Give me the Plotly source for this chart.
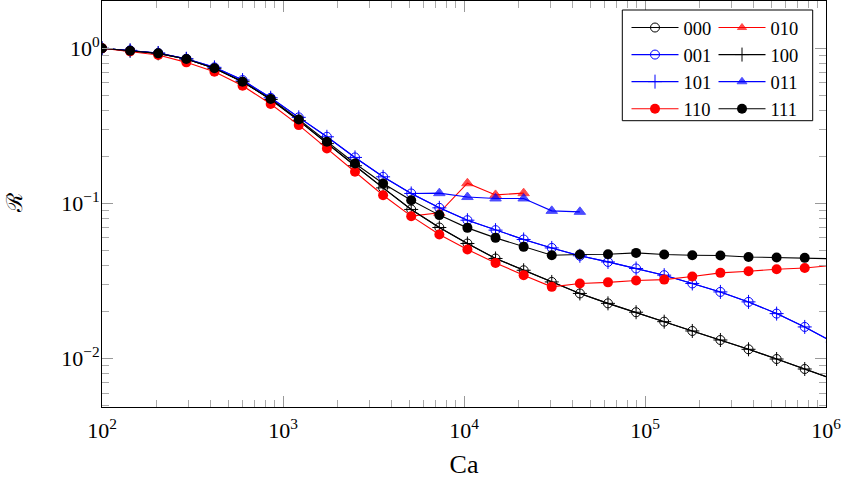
import plotly.graph_objects as go

# ---- data ----
Ca = [100, 143.0, 204.4, 292.4, 418.1, 597.8, 854.8, 1222, 1748, 2499, 3573,
      5109, 7306, 10445, 14937, 21357, 30538, 43666, 62434, 89274, 127644,
      182516, 260976, 373170, 533583, 762962, 1090940]

R_000 = [1.0, 0.965, 0.928, 0.853, 0.743, 0.609, 0.468, 0.342, 0.243, 0.175,
         0.126, 0.0915, 0.070, 0.0552, 0.0442, 0.0371, 0.0312, 0.0263, 0.0227,
         0.0199, 0.0173, 0.01507, 0.01318, 0.01148, 0.00994, 0.00857, 0.00738]
R_100 = [1.0, 0.965, 0.928, 0.853, 0.743, 0.609, 0.468, 0.342, 0.243, 0.175,
         0.126, 0.0915, 0.070, 0.0552, 0.0442, 0.0371, 0.0312, 0.0263, 0.0227,
         0.0199, 0.0173, 0.01507, 0.01318, 0.01148, 0.00994, 0.00857, 0.00738]
R_001 = [1.0, 0.971, 0.933, 0.857, 0.754, 0.624, 0.480, 0.359, 0.269, 0.198,
         0.1485, 0.116, 0.0937, 0.078, 0.0673, 0.0586, 0.0517, 0.046, 0.042,
         0.0381, 0.0345, 0.0305, 0.0269, 0.0232, 0.0195, 0.016, 0.01277]
R_101 = [1.0, 0.971, 0.933, 0.857, 0.754, 0.624, 0.480, 0.359, 0.269, 0.198,
         0.1485, 0.116, 0.0937, 0.078, 0.0673, 0.0586, 0.0517, 0.046, 0.042,
         0.0381, 0.0345, 0.0305, 0.0269, 0.0232, 0.0195, 0.016, 0.01277]
R_110 = [1.0, 0.956, 0.905, 0.812, 0.706, 0.574, 0.4375, 0.320, 0.2264, 0.160,
         0.113, 0.0828, 0.0631, 0.0505, 0.0414, 0.0345, 0.029, 0.0305, 0.031,
         0.0319, 0.0323, 0.0338, 0.0357, 0.0366, 0.0377, 0.0384, 0.0399]
R_111 = [1.0, 0.965, 0.928, 0.853, 0.743, 0.609, 0.471, 0.348, 0.2496, 0.181,
         0.1346, 0.105, 0.0841, 0.0696, 0.060, 0.0525, 0.0464, 0.0469, 0.0471,
         0.048, 0.0469, 0.0464, 0.0462, 0.0452, 0.0448, 0.0446, 0.0440]
Ca_010 = [5109, 7306, 10445, 14937, 21357]
R_010 = [0.0828, 0.087, 0.135, 0.1135, 0.1165]
Ca_011 = [5109, 7306, 10445, 14937, 21357, 30538, 43666]
R_011 = [0.116, 0.1165, 0.110, 0.1077, 0.1077, 0.0896, 0.0883]

x_tickvals = [1e2, 1e3, 1e4, 1e5, 1e6]
x_ticktext = ["10<sup>2</sup>", "10<sup>3</sup>", "10<sup>4</sup>",
              "10<sup>5</sup>", "10<sup>6</sup>"]
y_tickvals = [1e-2, 1e-1, 1e0]
y_ticktext = ["10<sup>−2</sup>", "10<sup>−1</sup>", "10<sup>0</sup>"]

FONT = "Liberation Serif"
RED, BLUE, BLACK = "#ff0000", "#0000ff", "#000000"

fig = go.Figure()

def add(name, x, y, color, symbol, size, legend, sizes=None, lw=1):
    fig.add_trace(go.Scatter(
        x=x, y=y, name=name, mode="lines+markers", legend=legend,
        line=dict(color=color, width=1.1),
        marker=dict(symbol=symbol, size=sizes if sizes else size, color=color,
                    line=dict(color=color, width=lw)),
        cliponaxis=True,
    ))

add("000", Ca, R_000, BLACK, "circle-open", 9, "legend")
add("010", Ca_010, R_010, RED, "triangle-up", 10, "legend2",
    sizes=[0] + [10] * (len(Ca_010) - 1))
add("001", Ca, R_001, BLUE, "circle-open", 9, "legend")
add("100", Ca, R_100, BLACK, "cross-thin", 10, "legend2")
add("101", Ca, R_101, BLUE, "cross-thin", 10, "legend")
add("011", Ca_011, R_011, BLUE, "triangle-up", 10, "legend2",
    sizes=[0] + [10] * (len(Ca_011) - 1))
add("110", Ca, R_110, RED, "circle", 10, "legend", lw=0)
add("111", Ca, R_111, BLACK, "circle", 10, "legend2", lw=0)

L, R, T, B = 102, 29, 1, 75
W, H = 855, 482
pw, ph = W - L - R, H - T - B

def px_x(p):
    return (p - L) / pw

def px_y(p):
    return (H - B - p) / ph

axis_common = dict(
    type="log", showline=True, linecolor="black", linewidth=1, mirror="allticks",
    ticks="inside", ticklen=11, tickcolor="#999", tickwidth=1,
    showgrid=False, zeroline=False, automargin=False,
    tickfont=dict(family=FONT, size=22, color="black"),
    minor=dict(ticks="inside", ticklen=7, tickcolor="#aaa", tickwidth=1,
               dtick="D1", showgrid=False),
)

legend_common = dict(
    xanchor="left", yanchor="top", bgcolor="rgba(0,0,0,0)", borderwidth=0,
    tracegroupgap=0, itemwidth=47,
    font=dict(family=FONT, size=18.5, color="black"),
)

fig.update_layout(
    width=W, height=H,
    margin=dict(l=L, r=R, t=T, b=B),
    paper_bgcolor="white", plot_bgcolor="white",
    font=dict(family=FONT, color="black"),
    xaxis=dict(range=[2, 6], tickvals=x_tickvals, ticktext=x_ticktext,
               ticklabelstandoff=4,
               title=dict(text="Ca", font=dict(family=FONT, size=26), standoff=12),
               **axis_common),
    yaxis=dict(range=[-2.312, 0.305], tickvals=y_tickvals, ticktext=y_ticktext,
               ticklabelstandoff=-3,
               **axis_common),
    annotations=[dict(text="ℛ", xref="paper", yref="paper",
                      x=px_x(15), y=px_y(203), xanchor="center", yanchor="middle",
                      textangle=-90, showarrow=False,
                      font=dict(family=FONT, size=22, color="black"))],
    legend=dict(x=px_x(626.5), y=px_y(9), **legend_common),
    legend2=dict(x=px_x(713.5), y=px_y(9), **legend_common),
    shapes=[dict(type="rect", xref="paper", yref="paper",
                 x0=px_x(622.3), x1=px_x(812.7), y0=px_y(120.7), y1=px_y(10),
                 line=dict(color="black", width=1), fillcolor="white",
                 layer="above")],
)

fig.write_html("out.html", config={"displayModeBar": False},
               post_script="document.body.style.margin='0';")
